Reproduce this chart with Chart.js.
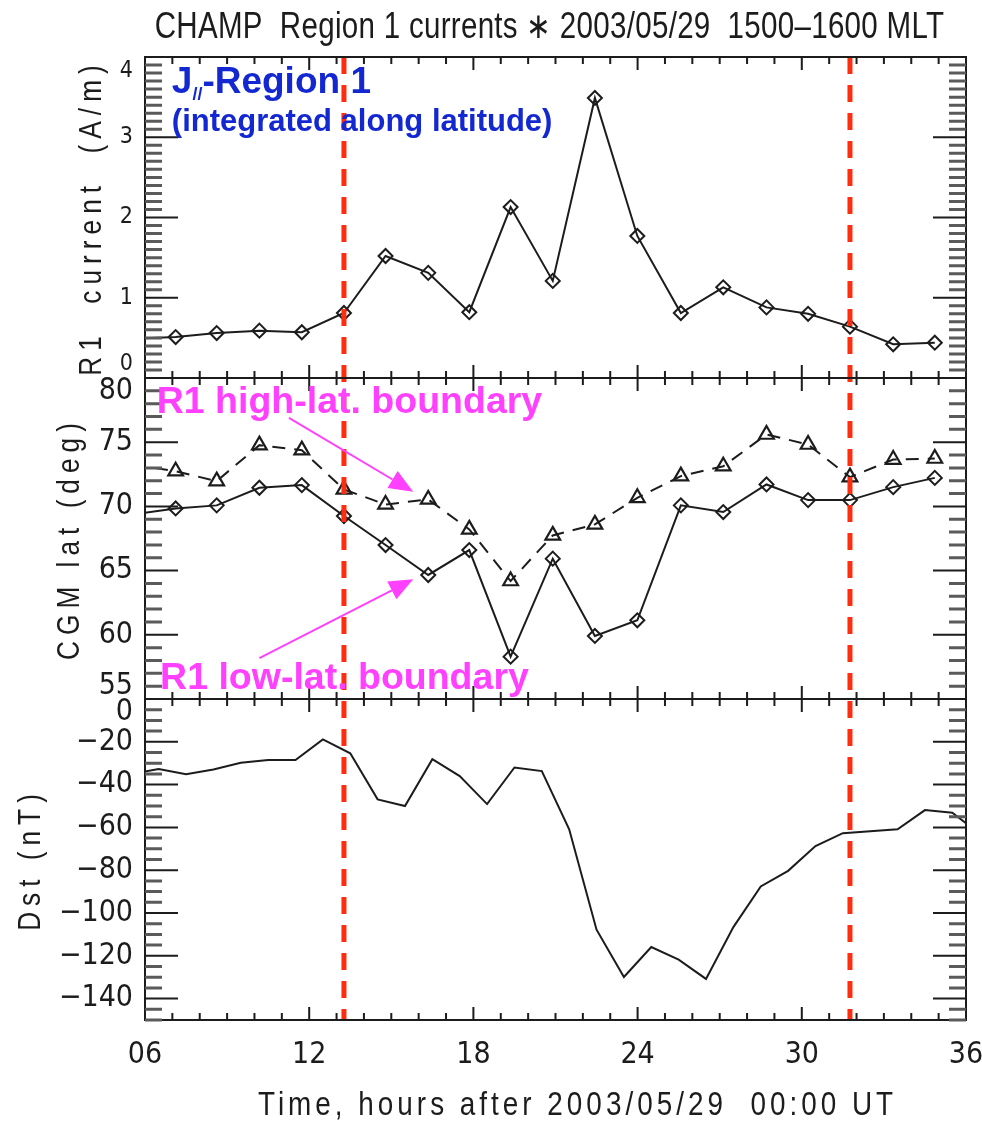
<!DOCTYPE html>
<html lang="en">
<head>
<meta charset="UTF-8">
<title>CHAMP Region 1 currents 2003/05/29</title>
<script src="https://cdn.jsdelivr.net/npm/chart.js"></script>
<style>
  html, body { margin: 0; padding: 0; background: #fff; }
  .box { width: 982px; height: 1125px; position: relative; }
</style>
</head>
<body>
<div class="box"><canvas id="champ"></canvas></div>
<script>
// CHAMP crossings, hours after 2003/05/29 00:00 UT (first one is just left of the frame)
const orbitHours = [5.57, 7.12, 8.62, 10.18, 11.73, 13.27, 14.79, 16.35, 17.85, 19.36, 20.90,
                    22.44, 23.99, 25.58, 27.13, 28.71, 30.23, 31.76, 33.34, 34.86];
// integrated R1 current (A/m)
const r1Current = [0.49, 0.51, 0.56, 0.59, 0.57, 0.81, 1.52, 1.31, 0.82, 2.13, 1.21,
                   3.49, 1.77, 0.81, 1.13, 0.88, 0.80, 0.64, 0.42, 0.44];
// R1 boundaries, CGM latitude (deg)
const highLat = [73.24, 72.74, 71.97, 74.77, 74.38, 71.32, 70.15, 70.54, 68.21, 64.19, 67.74,
                 68.60, 70.67, 72.36, 73.13, 75.60, 74.82, 72.28, 73.65, 73.73];
const lowLat = [69.37, 69.84, 70.08, 71.45, 71.66, 69.25, 66.99, 64.66, 66.60, 58.30, 65.93,
                59.91, 61.13, 70.08, 69.56, 71.71, 70.49, 70.49, 71.50, 72.22];
// hourly Dst (nT)
const dstHours = [5.5, 6.5, 7.5, 8.5, 9.5, 10.5, 11.5, 12.5, 13.5, 14.5, 15.5, 16.5, 17.5, 18.5,
                  19.5, 20.5, 21.5, 22.5, 23.5, 24.5, 25.5, 26.5, 27.5, 28.5, 29.5, 30.5, 31.5,
                  32.5, 33.5, 34.5, 35.5, 36.5];
const dst = [-35, -32.7, -35.1, -32.9, -29.8, -28.5, -28.5, -18.9, -25.4, -46.9, -50.0, -28.1,
             -36.0, -49.1, -32.0, -33.7, -60.9, -107.8, -129.9, -115.9, -121.8, -130.8, -106.6,
             -87.6, -80.3, -68.7, -62.7, -61.8, -60.9, -51.9, -53.1, -63];
// red dashed markers
const boundaryHours = [13.27, 31.76];

const xTicks = [6, 12, 18, 24, 30, 36];
const r1Ticks = [0, 1, 2, 3, 4];
const latTicks = [55, 60, 65, 70, 75, 80];
const dstTicks = [-140, -120, -100, -80, -60, -40, -20, 0];

const TICK_FONT = '"DejaVu Sans Condensed", "DejaVu Sans", sans-serif';
const IDL_FONT = '"Liberation Sans", Arial, sans-serif';
const NARROW = 0.82;   // squeeze for the IDL-looking captions
const PPT_FONT = '"Liberation Sans", Arial, sans-serif';
const INK = '#1c1c1c';
const BLUE = '#1428d2';
const PINK = '#ff40ff';

function pts(xs, ys) {
  return xs.map((x, i) => ({ x: x, y: ys[i] }));
}

// IDL keeps the end labels inside the panel: push them off the panel edge
function edgeLabel(min, max) {
  return function (v) {
    const s = String(v).replace('-', '\u2212');
    if (v === max) return ['', s];
    if (v === min) return [s, ''];
    return s;
  };
}

function yScale(ticks, min, max, size, lh) {
  return {
    type: 'linear', position: 'left', stack: 'panels', stackWeight: 1,
    min: min, max: max,
    grid: { display: false, drawTicks: false },
    border: { display: false },
    afterBuildTicks: s => { s.ticks = ticks.map(v => ({ value: v })); },
    afterFit: s => { s.width = 145; },
    ticks: {
      padding: 12, color: INK, autoSkip: false,
      font: { family: TICK_FONT, size: size, lineHeight: lh },
      callback: edgeLabel(min, max)
    }
  };
}

function idlText(ctx, text, x, y, size, spacing, rotate) {
  ctx.save();
  ctx.font = size + 'px ' + IDL_FONT;
  ctx.fillStyle = INK;
  ctx.letterSpacing = (spacing / NARROW) + 'px';
  ctx.textAlign = 'center';
  ctx.textBaseline = rotate ? 'middle' : 'alphabetic';
  ctx.translate(x, y);
  if (rotate) ctx.rotate(-Math.PI / 2);
  ctx.scale(NARROW, 1);
  ctx.fillText(text, 0, 0);
  ctx.restore();
}

function arrow(ctx, x0, y0, x1, y1) {
  const a = Math.atan2(y1 - y0, x1 - x0);
  const len = 24, half = 10;
  const bx = x1 - len * Math.cos(a), by = y1 - len * Math.sin(a);
  ctx.beginPath();
  ctx.moveTo(x0, y0);
  ctx.lineTo(bx, by);
  ctx.stroke();
  ctx.beginPath();
  ctx.moveTo(x1, y1);
  ctx.lineTo(bx + half * Math.sin(a), by - half * Math.cos(a));
  ctx.lineTo(bx - half * Math.sin(a), by + half * Math.cos(a));
  ctx.closePath();
  ctx.fill();
}

const idlFrame = {
  id: 'idlFrame',
  afterDatasetsDraw(chart) {
    const ctx = chart.ctx;
    const xs = chart.scales.x;
    const area = chart.chartArea;

    // red dashed lines
    ctx.save();
    ctx.strokeStyle = '#ff2d0f';
    ctx.lineWidth = 5;
    ctx.setLineDash([17, 11]);
    boundaryHours.forEach(h => {
      const px = xs.getPixelForValue(h);
      ctx.beginPath();
      ctx.moveTo(px, area.top);
      ctx.lineTo(px, area.bottom);
      ctx.stroke();
    });
    ctx.restore();

    // boxes and inward ticks, IDL style
    const minor = { y1: 0.1, y2: 1, y3: 5 };
    ctx.save();
    ['y1', 'y2', 'y3'].forEach(id => {
      const s = chart.scales[id];
      ctx.strokeStyle = INK;
      ctx.lineWidth = 2;
      ctx.strokeRect(xs.left, s.top, xs.right - xs.left, s.bottom - s.top);

      // x ticks on top and bottom of every panel, one per hour
      for (let h = xs.min; h <= xs.max; h++) {
        const px = xs.getPixelForValue(h);
        const len = xTicks.includes(h) ? 13 : 7;
        ctx.beginPath();
        ctx.moveTo(px, s.top); ctx.lineTo(px, s.top + len);
        ctx.moveTo(px, s.bottom); ctx.lineTo(px, s.bottom - len);
        ctx.stroke();
      }

      // y ticks left and right
      const majors = s.ticks.map(t => t.value);
      const n = Math.round((s.max - s.min) / minor[id]);
      for (let k = 0; k <= n; k++) {
        const v = +(s.min + k * minor[id]).toFixed(4);
        const py = s.getPixelForValue(v);
        const major = majors.some(m => Math.abs(m - v) < 1e-6);
        ctx.strokeStyle = major ? INK : '#5a5a5a';
        ctx.lineWidth = major ? 2 : 3;
        const len = major ? 33 : 17;
        ctx.beginPath();
        ctx.moveTo(xs.left, py); ctx.lineTo(xs.left + len, py);
        ctx.moveTo(xs.right, py); ctx.lineTo(xs.right - len, py);
        ctx.stroke();
      }
    });
    ctx.restore();
  },
  afterDraw(chart) {
    const ctx = chart.ctx;
    const xs = chart.scales.x;
    const area = chart.chartArea;
    const mid = (area.left + area.right) / 2;

    idlText(ctx, 'CHAMP  Region 1 currents \u2217 2003/05/29  1500\u20131600 MLT', mid - 6, 38, 36, 0.3, false);
    idlText(ctx, 'Time, hours after 2003/05/29  00:00 UT', mid + 22, 1115, 34, 4, false);

    // y titles sit just left of the widest tick label of each panel
    const yTitles = [['y1', 'R1  current  (A/m)'], ['y2', 'CGM lat (deg)'], ['y3', 'Dst (nT)']];
    yTitles.forEach(([id, text]) => {
      const s = chart.scales[id];
      ctx.font = s.options.ticks.font.size + 'px ' + TICK_FONT;
      let w = 0;
      s.ticks.forEach(t => {
        w = Math.max(w, ctx.measureText([].concat(t.label).join('')).width);
      });
      const cx = s.right - s.options.ticks.padding - w - 28;
      idlText(ctx, text, cx, (s.top + s.bottom) / 2, 32, 6, true);
    });

    // blue label in the top panel
    const y1 = chart.scales.y1;
    ctx.save();
    ctx.fillStyle = BLUE;
    ctx.textBaseline = 'alphabetic';
    ctx.textAlign = 'left';
    let bx = xs.getPixelForValue(6.98);
    const b1 = y1.getPixelForValue(3.55);
    ctx.font = 'bold 37px ' + PPT_FONT;
    ctx.fillText('J', bx, b1);
    bx += ctx.measureText('J').width;
    ctx.font = 'bold 18px ' + PPT_FONT;
    ctx.fillText('//', bx, b1 + 7);
    bx += ctx.measureText('//').width;
    ctx.font = 'bold 37px ' + PPT_FONT;
    ctx.fillText('-Region 1', bx, b1);
    ctx.font = 'bold 31px ' + PPT_FONT;
    ctx.fillText('(integrated along latitude)', xs.getPixelForValue(6.98), y1.getPixelForValue(3.08));
    ctx.restore();

    // magenta boundary labels with arrows
    const y2 = chart.scales.y2;
    const X = h => xs.getPixelForValue(h);
    const Y = v => y2.getPixelForValue(v);
    ctx.save();
    ctx.fillStyle = PINK;
    ctx.strokeStyle = PINK;
    ctx.lineWidth = 2;
    ctx.font = 'bold 37.5px ' + PPT_FONT;
    ctx.textAlign = 'left';
    ctx.fillText('R1 high-lat. boundary', X(6.43), Y(77.25));
    ctx.fillText('R1 low-lat. boundary', X(6.55), Y(55.8));
    arrow(ctx, X(11.26), Y(76.89), X(15.8), Y(71.14));
    arrow(ctx, X(10.18), Y(58.18), X(15.8), Y(64.32));
    ctx.restore();
  }
};

const diamond = {
  pointStyle: 'rectRot', pointRadius: 7, pointBorderWidth: 2,
  pointBackgroundColor: 'rgba(0,0,0,0)', pointBorderColor: INK
};

new Chart(document.getElementById('champ'), {
  type: 'line',
  data: {
    datasets: [
      Object.assign({
        label: 'R1 current', yAxisID: 'y1', data: pts(orbitHours, r1Current),
        borderColor: INK, borderWidth: 2
      }, diamond),
      {
        label: 'R1 high-lat. boundary', yAxisID: 'y2', data: pts(orbitHours, highLat),
        borderColor: INK, borderWidth: 2, borderDash: [13, 9],
        pointStyle: 'triangle', pointRadius: 8.5, pointBorderWidth: 2.2,
        pointBackgroundColor: 'rgba(0,0,0,0)', pointBorderColor: INK
      },
      Object.assign({
        label: 'R1 low-lat. boundary', yAxisID: 'y2', data: pts(orbitHours, lowLat),
        borderColor: INK, borderWidth: 2
      }, diamond),
      {
        label: 'Dst', yAxisID: 'y3', data: pts(dstHours, dst),
        borderColor: INK, borderWidth: 2, pointRadius: 0
      }
    ]
  },
  options: {
    responsive: true,
    maintainAspectRatio: false,
    animation: false,
    events: [],
    layout: { padding: { top: 57, right: 16, left: 0, bottom: 0 } },
    plugins: { legend: { display: false }, tooltip: { enabled: false } },
    scales: {
      x: {
        type: 'linear', position: 'bottom', min: 6, max: 36,
        grid: { display: false, drawTicks: false },
        border: { display: false },
        afterBuildTicks: s => { s.ticks = xTicks.map(v => ({ value: v })); },
        // keep the end labels from shrinking the plot area
        afterFit: s => { s.height = 105; s.paddingLeft = 0; s.paddingRight = 0; },
        ticks: {
          padding: 17, color: INK, autoSkip: false, maxRotation: 0,
          font: { family: TICK_FONT, size: 30 },
          callback: v => String(v).padStart(2, '0')
        }
      },
      // stacked panels are placed bottom-up in definition order
      y3: yScale(dstTicks, -150, 0, 30, '26px'),
      y2: yScale(latTicks, 55, 80, 30, '26px'),
      y1: yScale(r1Ticks, 0, 4, 23, '28px')
    }
  },
  plugins: [idlFrame]
});
</script>
</body>
</html>
